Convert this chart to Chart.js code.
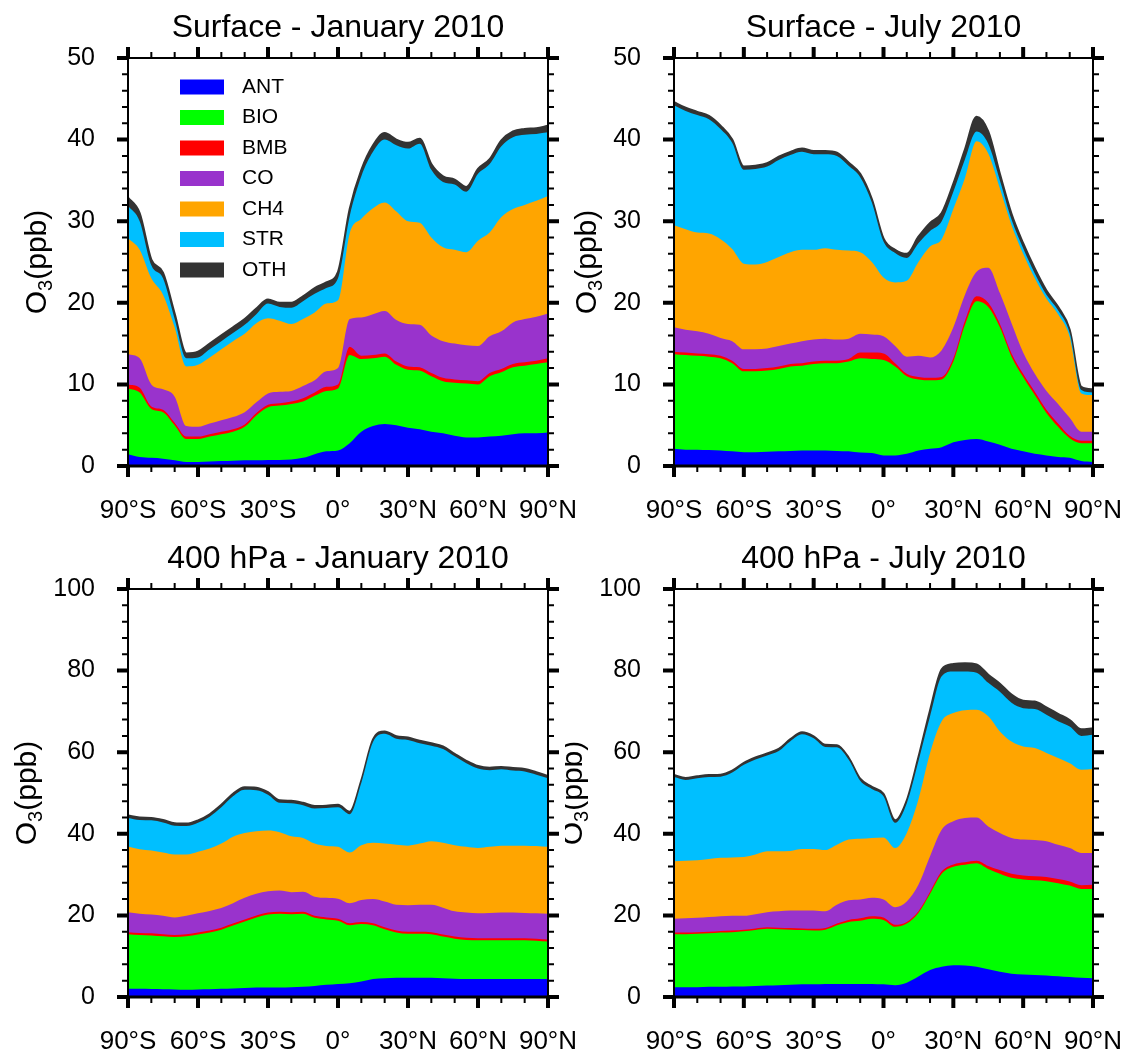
<!DOCTYPE html>
<html>
<head>
<meta charset="utf-8">
<script src="https://cdn.jsdelivr.net/npm/chart.js@4.4.1/dist/chart.umd.min.js"></script>
<style>
  body { margin: 0; background: #fff; width: 1131px; height: 1056px; position: relative; overflow: hidden; }
  canvas { position: absolute; }
</style>
</head>
<body>
<canvas id="c1" width="600" height="528" style="left:0;top:0"></canvas>
<canvas id="c2" width="566" height="528" style="left:565px;top:0"></canvas>
<canvas id="c3" width="600" height="528" style="left:0;top:528px"></canvas>
<canvas id="c4" width="566" height="528" style="left:565px;top:528px"></canvas>
<script>
// Latitude grid (deg, negative = south)
const lats = [-90,-85,-80,-75,-70,-65,-60,-55,-50,-45,-40,-35,-30,-25,-20,-15,-10,-5,0,5,10,15,20,25,30,35,40,45,50,55,60,65,70,75,80,85,90];

const species = ['ANT', 'BIO', 'BMB', 'CO', 'CH4', 'STR', 'OTH'];
const colors = ['#0000ff', '#00ff00', '#ff0000', '#9933cc', '#ffa500', '#00bfff', '#333333'];

// Values are the top of each stacked layer (cumulative O3, ppb)

// Surface - January 2010
const sfcJanANT = [1.45,1.1,1.0,0.9,0.7,0.5,0.5,0.55,0.6,0.65,0.7,0.7,0.75,0.75,0.8,1.0,1.45,1.8,1.9,2.8,4.2,4.9,5.15,5.0,4.7,4.5,4.2,4.0,3.7,3.5,3.5,3.6,3.7,3.9,4.0,4.0,4.1];
const sfcJanBIO = [9.5,9.0,7.0,6.6,5.0,3.3,3.3,3.6,3.9,4.2,4.8,6.2,7.2,7.4,7.6,7.9,8.6,9.2,9.5,13.6,13.1,13.2,13.4,12.4,11.8,11.7,11.0,10.4,10.2,10.1,10.0,11.0,11.5,12.1,12.3,12.5,12.7];
const sfcJanBMB = [10.0,9.6,7.3,6.9,5.3,3.6,3.6,3.9,4.2,4.5,5.1,6.5,7.5,7.7,7.9,8.3,9.0,9.7,10.0,14.6,13.5,13.6,13.8,12.8,12.2,12.1,11.4,10.8,10.6,10.5,10.4,11.4,11.9,12.5,12.7,12.9,13.2];
const sfcJanCO  = [13.7,13.2,10.0,9.4,8.5,4.9,4.8,5.2,5.6,6.0,6.6,7.8,8.9,9.1,9.2,9.8,10.5,11.6,12.0,18.0,18.2,18.6,19.0,17.9,17.4,17.3,16.0,15.3,15.0,14.8,14.7,15.9,16.5,17.6,18.0,18.3,18.7];
const sfcJanCH4 = [27.9,26.5,23.0,21.0,17.0,12.2,12.4,13.3,14.3,15.3,16.2,17.5,18.1,17.8,17.4,18.0,18.8,19.9,20.3,28.5,30.3,31.6,32.3,31.2,30.0,29.8,28.0,26.8,26.5,26.2,27.6,28.6,30.5,31.5,32.0,32.5,33.1];
const sfcJanSTR = [31.9,30.0,24.6,23.0,18.0,13.2,13.3,14.3,15.3,16.3,17.3,18.6,19.9,19.5,19.4,20.2,21.1,21.8,23.0,30.6,35.5,38.5,40.0,39.3,38.9,39.5,36.3,34.8,34.5,33.6,35.8,37.0,39.2,40.3,40.6,40.7,40.9];
const sfcJanOTH = [32.9,31.0,25.3,23.7,18.7,13.8,14.0,15.0,16.0,17.0,18.0,19.3,20.4,20.0,20.0,20.8,21.8,22.5,23.8,31.5,36.3,39.3,40.8,40.0,39.6,40.1,37.0,35.5,35.1,34.2,36.4,37.6,39.9,41.0,41.3,41.4,41.7];

// Surface - July 2010
const sfcJulANT = [2.1,2.0,2.0,1.95,1.9,1.8,1.7,1.7,1.75,1.8,1.85,1.9,1.9,1.9,1.85,1.8,1.65,1.6,1.3,1.3,1.5,1.9,2.1,2.3,2.9,3.2,3.3,3.0,2.6,2.1,1.8,1.5,1.3,1.1,1.0,0.6,0.5];
const sfcJulBIO = [13.7,13.6,13.5,13.4,13.2,12.6,11.6,11.6,11.7,11.9,12.2,12.3,12.5,12.6,12.6,12.8,13.2,13.1,13.0,12.2,11.0,10.6,10.5,10.6,12.8,17.3,20.2,19.5,17.0,13.4,10.9,8.7,6.5,4.8,3.4,2.8,2.8];
const sfcJulBMB = [14.0,13.9,13.8,13.7,13.5,12.9,11.9,11.9,12.0,12.2,12.5,12.6,12.8,12.9,12.9,13.1,13.9,13.9,13.8,12.6,11.3,10.9,10.8,10.9,13.2,17.8,20.8,20.0,17.4,13.8,11.3,9.1,6.9,5.2,3.7,3.1,3.1];
const sfcJulCO  = [17.0,16.7,16.5,16.2,15.7,15.3,14.3,14.3,14.4,14.7,15.0,15.3,15.5,15.6,15.5,15.6,16.2,16.1,15.9,14.7,13.4,13.5,13.3,14.2,17.0,21.0,23.8,24.3,21.2,17.5,13.9,11.3,9.2,7.6,5.9,4.2,4.2];
const sfcJulCH4 = [29.5,29.0,28.6,28.5,27.8,26.6,24.8,24.7,25.0,25.6,26.2,26.5,26.5,26.7,26.5,26.4,26.2,25.0,23.1,22.5,22.7,25.0,26.9,27.8,31.5,35.3,39.8,38.3,34.0,29.5,26.0,23.0,20.5,18.6,15.8,8.9,8.7];
const sfcJulSTR = [44.2,43.5,43.0,42.5,41.3,39.6,36.3,36.4,36.7,37.5,38.1,38.5,38.2,38.2,38.0,36.8,35.4,32.3,27.5,26.1,25.5,27.3,28.8,30.0,33.6,37.6,41.0,39.5,35.0,30.2,26.7,23.6,21.0,19.1,16.3,9.3,9.0];
const sfcJulOTH = [44.6,43.9,43.4,42.9,41.7,40.0,36.7,36.8,37.1,37.9,38.5,38.9,38.6,38.6,38.4,37.2,35.8,32.7,27.9,26.5,26.0,28.1,29.8,31.0,34.6,38.8,42.8,41.0,35.8,30.9,27.3,24.2,21.5,19.5,16.7,9.7,9.4];

// 400 hPa - January 2010
const hpaJanANT = [2.0,2.0,1.95,1.9,1.85,1.8,1.85,1.9,2.0,2.1,2.2,2.3,2.3,2.3,2.4,2.5,2.7,3.0,3.2,3.4,3.8,4.4,4.6,4.7,4.7,4.7,4.7,4.6,4.5,4.4,4.4,4.4,4.4,4.4,4.4,4.4,4.4];
const hpaJanBIO = [15.4,15.2,15.1,14.9,14.7,14.9,15.3,15.8,16.5,17.5,18.5,19.5,20.2,20.4,20.3,20.4,19.4,19.0,18.7,17.6,17.9,17.6,16.6,15.8,15.5,15.5,15.4,14.8,14.3,14.0,13.9,13.9,13.9,13.9,13.9,13.8,13.6];
const hpaJanBMB = [15.9,15.7,15.6,15.4,15.2,15.4,15.8,16.3,17.0,18.0,19.0,20.0,20.7,20.9,20.8,20.9,19.9,19.5,19.2,18.1,18.4,18.1,17.1,16.3,16.0,16.0,15.9,15.3,14.8,14.5,14.4,14.4,14.4,14.4,14.4,14.3,14.1];
const hpaJanCO  = [20.8,20.4,20.2,19.9,19.5,19.9,20.5,21.1,21.8,23.0,24.3,25.3,25.9,26.1,25.7,25.8,24.6,24.3,24.1,23.0,23.8,24.0,23.4,22.6,22.5,22.6,22.6,21.9,21.0,20.7,20.5,20.6,20.7,20.7,20.6,20.5,20.4];
const hpaJanCH4 = [36.9,36.2,35.9,35.4,34.9,34.9,35.6,36.4,37.6,39.3,40.2,40.6,40.8,40.4,39.4,39.0,37.6,37.0,36.8,35.4,37.2,37.8,37.6,37.3,37.1,37.6,38.2,37.8,37.2,36.8,36.5,36.8,37.1,37.1,37.1,37.0,36.8];
const hpaJanSTR = [43.9,43.4,43.3,42.8,42.0,41.9,42.7,44.2,46.5,49.2,50.8,50.7,49.6,47.6,47.5,47.0,46.2,46.3,46.5,44.8,52.5,62.5,64.5,63.3,63.0,62.2,61.6,60.8,59.0,57.3,56.0,55.6,55.8,55.5,55.3,54.5,53.6];
const hpaJanOTH = [44.5,44.0,43.9,43.4,42.6,42.5,43.3,44.8,47.1,49.8,51.4,51.3,50.2,48.2,48.1,47.6,46.8,46.9,47.1,45.4,53.1,63.1,65.1,63.9,63.6,62.8,62.2,61.4,59.6,57.9,56.6,56.2,56.4,56.1,55.9,55.1,54.2];

// 400 hPa - July 2010
const hpaJulANT = [2.4,2.4,2.4,2.5,2.5,2.6,2.6,2.7,2.8,2.9,3.0,3.1,3.1,3.2,3.2,3.2,3.2,3.2,3.1,2.9,3.5,5.0,6.6,7.4,7.8,7.7,7.4,6.8,6.2,5.7,5.5,5.4,5.3,5.1,4.9,4.7,4.6];
const hpaJulBIO = [15.4,15.4,15.5,15.6,15.8,15.9,16.1,16.4,16.7,16.6,16.5,16.4,16.3,16.5,17.6,18.4,18.7,19.2,18.9,17.2,18.0,20.6,25.3,30.2,31.9,32.4,32.8,31.4,30.2,29.2,28.8,28.6,28.4,27.9,27.3,26.5,26.5];
const hpaJulBMB = [15.8,15.8,15.9,16.0,16.2,16.3,16.5,16.8,17.1,17.0,16.9,16.8,16.7,16.9,18.0,18.9,19.3,19.8,19.5,17.7,18.4,21.0,25.8,30.8,32.5,33.0,33.4,32.1,31.1,30.2,29.8,29.6,29.4,28.9,28.3,27.4,27.5];
const hpaJulCO  = [19.2,19.3,19.4,19.6,19.8,19.9,19.9,20.3,20.8,21.0,21.2,21.2,21.2,21.0,22.6,23.7,23.9,24.3,23.9,22.0,23.4,27.5,34.5,41.0,43.1,43.9,44.0,41.8,40.2,39.0,38.6,38.5,38.2,37.3,36.5,35.3,35.3];
const hpaJulCH4 = [33.3,33.4,33.5,33.8,34.1,34.2,34.3,34.9,35.7,35.7,35.8,36.3,36.3,36.0,37.3,38.6,38.8,39.0,39.1,36.5,40.2,48.4,59.8,67.6,69.6,70.3,70.4,68.8,65.1,62.6,61.4,61.0,59.8,58.6,57.3,55.7,55.9];
const hpaJulSTR = [53.9,53.2,53.6,53.9,54.0,55.0,56.9,58.2,59.2,60.3,62.7,64.4,63.4,61.3,61.2,58.2,53.0,51.0,49.2,42.7,47.5,57.8,68.8,78.6,79.8,79.8,79.5,77.0,74.8,72.1,70.8,70.6,69.2,67.6,66.3,64.0,64.3];
const hpaJulOTH = [54.4,53.7,54.1,54.4,54.5,55.5,57.4,58.7,59.7,60.8,63.2,64.9,63.9,61.8,61.7,58.7,53.5,51.5,49.8,43.3,48.2,58.8,70.3,80.3,81.6,81.8,81.5,79.0,76.8,74.1,72.6,72.4,71.0,69.4,67.9,65.6,65.9];

const FONT = '"Liberation Sans", Arial, Helvetica, sans-serif';

function latLabel(v) {
  if (v === 0) return '0°';
  return Math.abs(v) + '°' + (v < 0 ? 'S' : 'N');
}

// Frame, tick marks, title, y title and legend
const decorPlugin = {
  id: 'decor',
  afterDraw(chart, args, opts) {
    const ctx = chart.ctx;
    const a = chart.chartArea;
    const xs = chart.scales.x;
    const ys = chart.scales.y;
    ctx.save();
    ctx.strokeStyle = '#000';
    ctx.lineCap = 'butt';

    // x ticks, top and bottom, pointing outward
    for (let v = -90; v <= 90; v += 10) {
      const px = xs.getPixelForValue(v);
      const major = v % 30 === 0;
      const len = major ? 11 : 6;
      ctx.lineWidth = major ? 4 : 2;
      ctx.beginPath();
      ctx.moveTo(px, a.top); ctx.lineTo(px, a.top - len);
      ctx.moveTo(px, a.bottom); ctx.lineTo(px, a.bottom + len);
      ctx.stroke();
    }
    // y ticks, left and right
    for (let v = 0; v <= opts.ymax + 0.001; v += opts.yMinor) {
      const py = ys.getPixelForValue(v);
      const major = Math.abs(v / opts.yMajor - Math.round(v / opts.yMajor)) < 0.001;
      const len = major ? 11 : 6;
      ctx.lineWidth = major ? 4 : 2;
      ctx.beginPath();
      ctx.moveTo(a.left, py); ctx.lineTo(a.left - len, py);
      ctx.moveTo(a.right, py); ctx.lineTo(a.right + len, py);
      ctx.stroke();
    }

    // frame
    ctx.lineWidth = 2;
    ctx.strokeRect(a.left, a.top, a.right - a.left, a.bottom - a.top);
    ctx.lineWidth = 3;
    ctx.beginPath();
    ctx.moveTo(a.left, a.bottom); ctx.lineTo(a.right, a.bottom);
    ctx.stroke();

    // panel title
    ctx.fillStyle = '#000';
    ctx.font = '32px ' + FONT;
    ctx.textAlign = 'center';
    ctx.textBaseline = 'alphabetic';
    ctx.fillText(opts.title, (a.left + a.right) / 2, a.top - 21);

    // y axis title O3(ppb) with subscript
    ctx.save();
    ctx.translate(a.left - opts.yTitleOffset, (a.top + a.bottom) / 2);
    ctx.rotate(-Math.PI / 2);
    ctx.textAlign = 'left';
    ctx.textBaseline = 'middle';
    const big = '30px ' + FONT, small = '20px ' + FONT;
    ctx.font = big;
    const wO = ctx.measureText('O').width;
    const wP = ctx.measureText('(ppb)').width;
    ctx.font = small;
    const w3 = ctx.measureText('3').width;
    let tx = -(wO + w3 + wP) / 2;
    ctx.font = big;
    ctx.fillText('O', tx, 0);
    tx += wO;
    ctx.font = small;
    ctx.fillText('3', tx, 8);
    tx += w3;
    ctx.font = big;
    ctx.fillText('(ppb)', tx, 0);
    ctx.restore();

    // legend
    if (opts.legend) {
      ctx.font = '21px ' + FONT;
      ctx.textAlign = 'left';
      ctx.textBaseline = 'middle';
      chart.data.datasets.forEach((ds, i) => {
        const cy = a.top + 29 + i * 30.5;
        ctx.fillStyle = ds.backgroundColor;
        ctx.fillRect(a.left + 52, cy - 7.5, 44, 15);
        ctx.fillStyle = '#000';
        ctx.fillText(ds.label, a.left + 114, cy);
      });
    }
    ctx.restore();
  }
};

function makePanel(canvasId, area, title, series, ymax, yMajor, yMinor, yTitleOffset, legend) {
  const canvas = document.getElementById(canvasId);
  const W = canvas.width, H = canvas.height;
  const datasets = species.map((name, i) => ({
    label: name,
    data: lats.map((lat, k) => ({ x: lat, y: series[i][k] })),
    backgroundColor: colors[i],
    borderColor: colors[i],
    borderWidth: name === 'OTH' ? 2 : 0,
    fill: 'origin',
    pointRadius: 0,
    cubicInterpolationMode: 'monotone'
  }));

  return new Chart(canvas.getContext('2d'), {
    type: 'line',
    data: { datasets },
    options: {
      responsive: false,
      animation: false,
      events: [],
      layout: { padding: { left: 0, top: area.top, right: W - area.right, bottom: 0 } },
      plugins: {
        legend: { display: false },
        tooltip: { enabled: false },
        decor: { title, ymax, yMajor, yMinor, yTitleOffset, legend }
      },
      scales: {
        x: {
          type: 'linear',
          min: -90,
          max: 90,
          grid: { display: false },
          border: { display: false },
          ticks: {
            stepSize: 30,
            autoSkip: false,
            maxRotation: 0,
            color: '#000',
            padding: 21,
            font: { family: FONT, size: 26 },
            callback: latLabel
          },
          afterFit: s => { s.height = H - area.bottom; s.paddingLeft = 0; s.paddingRight = 0; }
        },
        y: {
          min: 0,
          max: ymax,
          grid: { display: false, drawTicks: false },
          border: { display: false },
          ticks: {
            stepSize: yMajor,
            color: '#000',
            padding: 33,
            font: { family: FONT, size: 25 }
          },
          afterFit: s => { s.width = area.left; s.paddingTop = 0; s.paddingBottom = 0; }
        }
      }
    },
    plugins: [decorPlugin]
  });
}

makePanel('c1', { left: 128, right: 548, top: 58, bottom: 466 }, 'Surface - January 2010',
  [sfcJanANT, sfcJanBIO, sfcJanBMB, sfcJanCO, sfcJanCH4, sfcJanSTR, sfcJanOTH], 50, 10, 2, 90, true);
makePanel('c2', { left: 109, right: 528, top: 58, bottom: 466 }, 'Surface - July 2010',
  [sfcJulANT, sfcJulBIO, sfcJulBMB, sfcJulCO, sfcJulCH4, sfcJulSTR, sfcJulOTH], 50, 10, 2, 86, false);
makePanel('c3', { left: 128, right: 548, top: 61, bottom: 469 }, '400 hPa - January 2010',
  [hpaJanANT, hpaJanBIO, hpaJanBMB, hpaJanCO, hpaJanCH4, hpaJanSTR, hpaJanOTH], 100, 20, 4, 100, false);
makePanel('c4', { left: 109, right: 528, top: 61, bottom: 469 }, '400 hPa - July 2010',
  [hpaJulANT, hpaJulBIO, hpaJulBMB, hpaJulCO, hpaJulCH4, hpaJulSTR, hpaJulOTH], 100, 20, 4, 100, false);
</script>
</body>
</html>
